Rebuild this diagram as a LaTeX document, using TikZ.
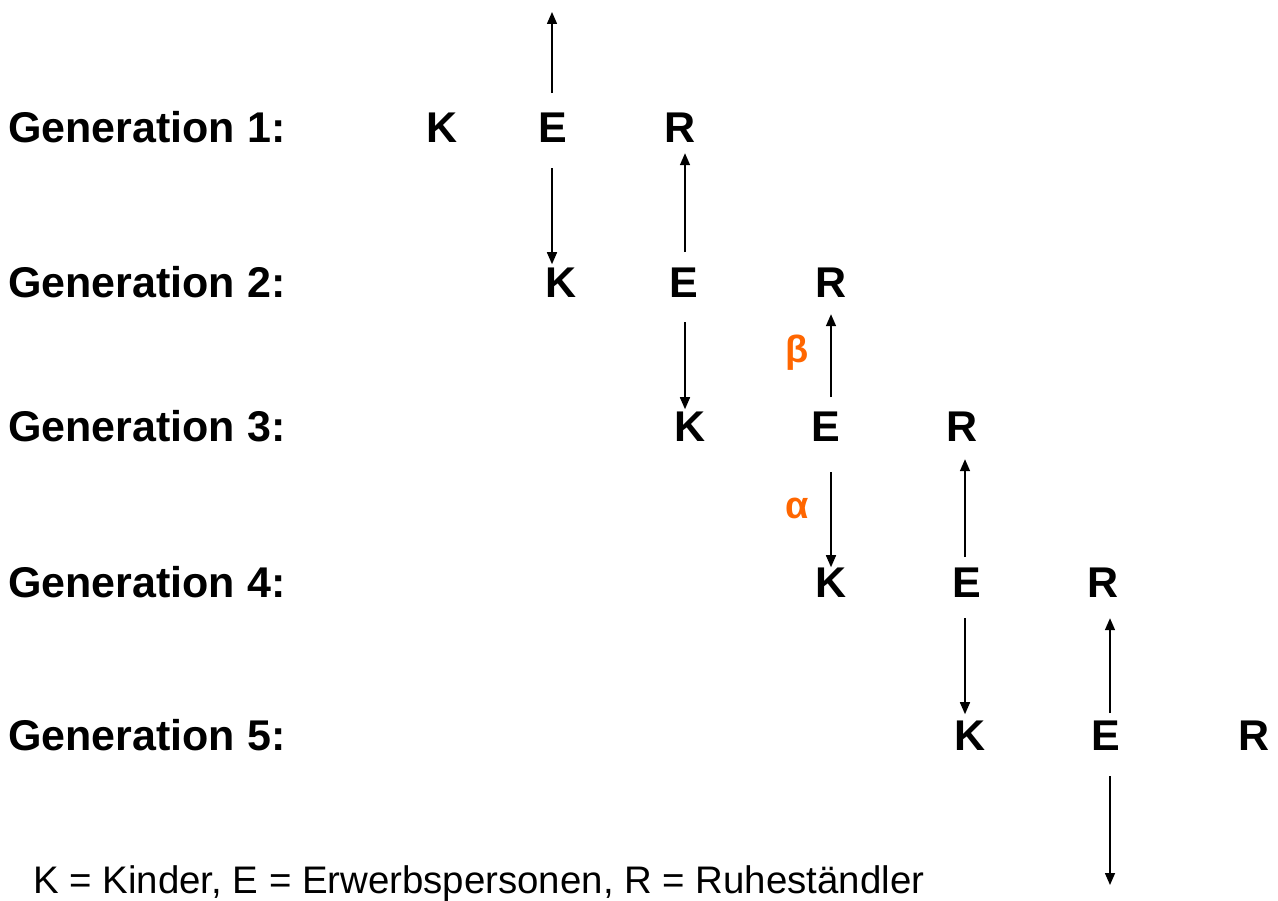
\documentclass[tikz,border=0pt]{standalone}
\usepackage{fontspec}
\setmainfont{Liberation Sans}
\usetikzlibrary{arrows.meta}
\definecolor{greekorange}{HTML}{FF6600}
\tikzset{
  gen/.style={anchor=base west, inner sep=0pt, font=\fontsize{43}{48}\selectfont\bfseries},
  let/.style={anchor=base, inner sep=0pt, font=\fontsize{43}{48}\selectfont\bfseries},
  greek/.style={anchor=base, inner sep=0pt, text=greekorange, font=\fontsize{38}{44}\selectfont\bfseries},
  legend/.style={anchor=base west, inner sep=0pt, font=\fontsize{38.4}{44}\selectfont},
  arr/.style={line width=1.5pt, -{Triangle[length=12pt,width=10pt]}}
}
\begin{document}
\begin{tikzpicture}[x=1pt,y=-1pt]
\useasboundingbox (0,0) rectangle (1278,901);
% generation labels
\node[gen] (g1) at (8,143) {Generation 1:};
\node[gen] (g2) at (8,298) {Generation 2:};
\node[gen] (g3) at (8,442) {Generation 3:};
\node[gen] (g4) at (8,597) {Generation 4:};
\node[gen] (g5) at (8,750) {Generation 5:};
% letters
\node[let] (K1) at (442,143) {K};
\node[let] (E1) at (553,143) {E};
\node[let] (R1) at (680,143) {R};
\node[let] (K2) at (561,298) {K};
\node[let] (E2) at (684,298) {E};
\node[let] (R2) at (831,298) {R};
\node[let] (K3) at (690,442) {K};
\node[let] (E3) at (826,442) {E};
\node[let] (R3) at (962,442) {R};
\node[let] (K4) at (831,597) {K};
\node[let] (E4) at (967,597) {E};
\node[let] (R4) at (1103,597) {R};
\node[let] (K5) at (970,750) {K};
\node[let] (E5) at (1106,750) {E};
\node[let] (R5) at (1254,750) {R};
% free ends
\coordinate (top) at (552,12);
\coordinate (bot) at (1110,885);
% arrows
\draw[arr] ([xshift=-1pt,yshift=20pt]E1.north) -- (top);
\draw[arr,shorten >=4pt] ([xshift=-1pt,yshift=-25pt]E1.south) -- ([xshift=-1pt]E1.south |- K2.north);
\draw[arr,shorten >=10pt] ([xshift=1pt,yshift=16pt]E2.north) -- ([xshift=1pt]E2.north |- R1.south);
\draw[arr,shorten >=3pt] ([xshift=1pt,yshift=-24pt]E2.south) -- ([xshift=1pt]E2.south |- K3.north);
\draw[arr,shorten >=16pt] ([xshift=5pt,yshift=15pt]E3.north) -- ([xshift=5pt]E3.north |- R2.south);
\draw[arr] ([xshift=5pt,yshift=-30pt]E3.south) -- ([xshift=5pt]E3.south |- K4.north);
\draw[arr,shorten >=17pt] ([xshift=-2pt,yshift=10pt]E4.north) -- ([xshift=-2pt]E4.north |- R3.south);
\draw[arr,shorten >=6pt] ([xshift=-2pt,yshift=-21pt]E4.south) -- ([xshift=-2pt]E4.south |- K5.north);
\draw[arr,shorten >=21pt] ([xshift=4pt,yshift=7pt]E5.north) -- ([xshift=4pt]E5.north |- R4.south);
\draw[arr] ([xshift=4pt,yshift=-26pt]E5.south) -- (bot);
% greek labels
\node[greek] (beta) at (797,363) {β};
\node[greek] (alpha) at (797,518) {α};
% legend
\node[legend] (leg) at (33,893) {K = Kinder, E = Erwerbspersonen, R = Ruheständler};
\end{tikzpicture}
\end{document}
